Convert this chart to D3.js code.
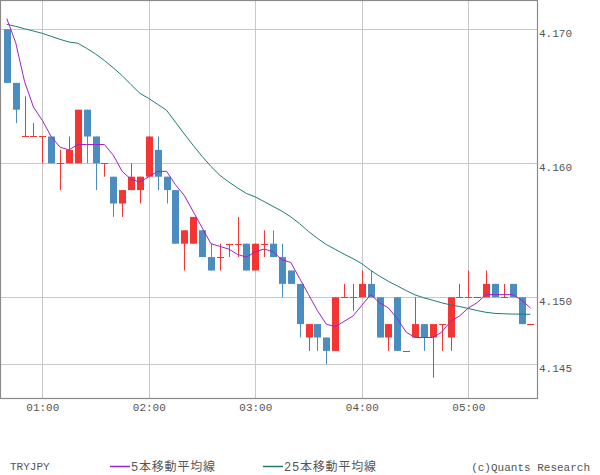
<!DOCTYPE html>
<html><head><meta charset="utf-8">
<script src="https://cdn.jsdelivr.net/npm/d3@7"></script>
<style>
html,body{margin:0;padding:0;background:#fff;}
svg{display:block;}
text{font-family:"Liberation Mono","Noto Sans CJK JP",monospace;fill:#555;}
</style></head>
<body>
<svg id="chart" width="600" height="475"></svg>
<script>
const times = ["00:40","00:45","00:50","00:55","01:00","01:05","01:10","01:15","01:20","01:25","01:30","01:35",
"01:40","01:45","01:50","01:55","02:00","02:05","02:10","02:15","02:20","02:25","02:30","02:35",
"02:40","02:45","02:50","02:55","03:00","03:05","03:10","03:15","03:20","03:25","03:30","03:35",
"03:40","03:45","03:50","03:55","04:00","04:05","04:10","04:15","04:20","04:25","04:30","04:35",
"04:40","04:45","04:50","04:55","05:00","05:05","05:10","05:15","05:20","05:25","05:30","05:35"];
const open = [4.170,4.166,4.162,4.162,4.162,4.162,4.160,4.160,4.160,4.164,4.162,4.160,
4.159,4.157,4.158,4.158,4.159,4.161,4.159,4.158,4.154,4.154,4.155,4.153,
4.153,4.154,4.154,4.154,4.152,4.154,4.154,4.153,4.152,4.151,4.147,4.148,
4.147,4.146,4.150,4.150,4.150,4.151,4.150,4.147,4.150,4.146,4.147,4.148,
4.147,4.148,4.147,4.150,4.150,4.150,4.150,4.151,4.150,4.151,4.150,4.148];
const high = [4.170,4.166,4.165,4.163,4.162,4.162,4.161,4.162,4.164,4.164,4.162,4.160,
4.159,4.158,4.160,4.159,4.162,4.162,4.159,4.158,4.155,4.156,4.155,4.154,
4.154,4.154,4.156,4.154,4.154,4.155,4.155,4.154,4.152,4.151,4.148,4.148,
4.147,4.150,4.151,4.151,4.152,4.152,4.150,4.148,4.150,4.146,4.150,4.148,
4.148,4.148,4.150,4.151,4.152,4.150,4.152,4.151,4.151,4.151,4.150,4.148];
const low = [4.166,4.163,4.162,4.162,4.160,4.160,4.158,4.160,4.160,4.160,4.158,4.159,
4.156,4.156,4.158,4.157,4.159,4.158,4.157,4.154,4.152,4.154,4.153,4.152,
4.152,4.153,4.153,4.152,4.152,4.153,4.153,4.150,4.151,4.147,4.146,4.146,
4.145,4.146,4.150,4.149,4.150,4.150,4.147,4.146,4.146,4.146,4.147,4.146,
4.144,4.146,4.146,4.150,4.150,4.150,4.150,4.150,4.150,4.150,4.148,4.148];
const close = [4.166,4.164,4.162,4.162,4.162,4.160,4.160,4.161,4.164,4.162,4.160,4.160,
4.157,4.158,4.159,4.159,4.162,4.159,4.158,4.154,4.155,4.156,4.153,4.152,
4.153,4.154,4.154,4.152,4.154,4.154,4.153,4.151,4.151,4.148,4.148,4.147,
4.146,4.150,4.150,4.150,4.151,4.150,4.147,4.148,4.146,4.146,4.148,4.147,
4.148,4.148,4.150,4.150,4.150,4.150,4.151,4.150,4.150,4.150,4.148,4.148];
const ma5 = [4.1708,4.1690,4.1661,4.1642,4.1632,4.1620,4.1612,4.1610,4.1614,4.1614,4.1614,4.1614,
4.1606,4.1594,4.1588,4.1586,4.1590,4.1594,4.1594,4.1584,4.1576,4.1564,4.1552,4.1540,
4.1538,4.1536,4.1532,4.1530,4.1534,4.1536,4.1534,4.1528,4.1526,4.1514,4.1502,4.1490,
4.1480,4.1478,4.1482,4.1486,4.1494,4.1502,4.1496,4.1492,4.1484,4.1474,4.1470,4.1470,
4.1470,4.1474,4.1482,4.1486,4.1492,4.1496,4.1502,4.1502,4.1502,4.1502,4.1498,4.1492];
const ma25 = [4.17037,4.17022,4.17004,4.16987,4.16970,4.16947,4.16925,4.16905,4.16896,4.16858,4.16816,4.16767,
4.16712,4.16654,4.16587,4.16522,4.16484,4.16440,4.16396,4.16307,4.16219,4.16134,4.16052,4.15977,
4.15911,4.15861,4.15816,4.15775,4.15749,4.15714,4.15678,4.15643,4.15600,4.15549,4.15491,4.15440,
4.15394,4.15358,4.15322,4.15289,4.15251,4.15201,4.15158,4.15119,4.15085,4.15050,4.15018,4.14996,
4.14978,4.14959,4.14943,4.14931,4.14917,4.14901,4.14888,4.14880,4.14877,4.14875,4.14874,4.14873];
const yTicks = [4.145, 4.150, 4.160, 4.170];
const xTicks = ["01:00","02:00","03:00","04:00","05:00"];
const legendItems = [{label:"5本移動平均線", color:"#a021c4"},{label:"25本移動平均線", color:"#217a78"}];

const svg = d3.select("#chart");
const W = 537, H = 398;
const parse = d3.utcParse("%H:%M");
const x = d3.scaleUtc().domain([parse("01:00"), parse("05:00")]).range([42.3, 468.3]);
const y = d3.scaleLinear().domain([4.145, 4.170]).range([364.3, 29.3]);
const UP = "#f53434", DOWN = "#4b8cc1", GRID = "#c8c8c8";

// grid
const g = svg.append("g");
g.selectAll(".hg").data(yTicks).enter().append("line")
  .attr("x1",0).attr("x2",W).attr("y1",d=>Math.round(y(d))+0.5).attr("y2",d=>Math.round(y(d))+0.5)
  .attr("stroke",GRID).attr("stroke-width",1);
g.selectAll(".vg").data(xTicks).enter().append("line")
  .attr("y1",0).attr("y2",H).attr("x1",d=>Math.round(x(parse(d)))+0.5).attr("x2",d=>Math.round(x(parse(d)))+0.5)
  .attr("stroke",GRID).attr("stroke-width",1);

// candles
const data = times.map((t,i)=>({t:parse(t),o:open[i],h:high[i],l:low[i],c:close[i]}));
const bw = 7;
const cg = svg.append("g");
data.forEach(d=>{
  const cx = Math.round(x(d.t));
  const col = d.c < d.o ? DOWN : UP;
  cg.append("line").attr("x1",cx+0.5).attr("x2",cx+0.5)
    .attr("y1",y(d.h)).attr("y2",y(d.l)).attr("stroke",col).attr("stroke-width",1);
  if (d.c === d.o) {
    cg.append("line").attr("x1",cx-3).attr("x2",cx+4)
      .attr("y1",Math.round(y(d.c))+0.5).attr("y2",Math.round(y(d.c))+0.5).attr("stroke",col).attr("stroke-width",1);
  } else {
    const top = y(Math.max(d.o,d.c)), bot = y(Math.min(d.o,d.c));
    cg.append("rect").attr("x",cx-3).attr("width",bw).attr("y",top).attr("height",bot-top).attr("fill",col);
  }
});

// moving averages
const line = d3.line().x((d,i)=>x(parse(times[i]))).y(d=>y(d));
svg.append("path").datum(ma25).attr("d",line).attr("fill","none").attr("stroke",legendItems[1].color).attr("stroke-width",1);
svg.append("path").datum(ma5).attr("d",line).attr("fill","none").attr("stroke",legendItems[0].color).attr("stroke-width",1);

// frame
svg.append("rect").attr("x",0.5).attr("y",0.5).attr("width",W).attr("height",H)
  .attr("fill","none").attr("stroke","#8a8a8a").attr("stroke-width",1.2);

// axes labels
const yAxis = d3.axisRight(y).tickValues(yTicks).tickFormat(d3.format(".3f")).tickSize(0).tickPadding(2);
const ya = svg.append("g").attr("transform",`translate(${W},4)`).call(yAxis);
ya.select(".domain").remove();
ya.selectAll("text").style("font-size","11px").attr("fill","#555").style("font-family",'"Liberation Mono",monospace');

const xAxis = d3.axisBottom(x).tickValues(xTicks.map(parse)).tickFormat(d3.utcFormat("%H:%M")).tickSize(0).tickPadding(5);
const xa = svg.append("g").attr("transform",`translate(0,${H})`).call(xAxis);
xa.select(".domain").remove();
xa.selectAll("text").style("font-size","11px").attr("fill","#555").style("font-family",'"Liberation Mono",monospace');

// legend
svg.append("text").attr("x",10).attr("y",470).style("font-size","11px").text("TRYJPY");
const lx = [110, 263];
legendItems.forEach((it,i)=>{
  svg.append("line").attr("x1",lx[i]).attr("x2",lx[i]+20).attr("y1",466.5).attr("y2",466.5)
    .attr("stroke",it.color).attr("stroke-width",1.5);
  svg.append("text").attr("x",lx[i]+21).attr("y",471).style("font-size","12px")
    .style("letter-spacing","0.8px").text(it.label);
});
svg.append("text").attr("x",590).attr("y",471).attr("text-anchor","end").style("font-size","11px").text("(c)Quants Research");
</script>
</body></html>
